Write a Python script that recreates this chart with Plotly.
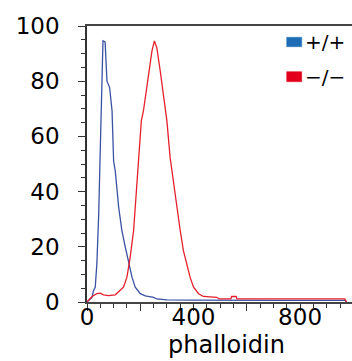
import plotly.graph_objects as go

# data
blue_x = [0, 19, 24, 31, 37, 44, 50, 56, 60, 68, 75, 85, 94, 100, 106, 119, 131, 144, 156,
          169, 181, 200, 219, 250, 262, 300, 400, 500, 700, 900, 968, 975]
blue_y = [0, 1.7, 4, 5.4, 13.8, 31.9, 56, 83.7, 94.6, 94.2, 80, 77.7, 69.3, 51, 47.6, 34.3,
          25.9, 19.8, 15, 9, 5.4, 3, 2.2, 1.7, 1.1, 0.8, 0.7, 0.6, 0.6, 0.6, 0.6, 0]

red_x = [0, 19, 37, 50, 62, 81, 106, 125, 137, 150, 162, 175, 187, 197, 204, 212, 222, 231,
         244, 253, 262, 275, 287, 300, 312, 325, 337, 350, 362, 375, 387, 400, 419, 437, 487,
         497, 540, 543, 560, 563, 700, 900, 968, 975]
red_y = [0, 2, 3, 3.2, 2.6, 2.3, 2.6, 4.2, 5.4, 9, 16.2, 25.9, 44, 56, 65.6, 69.3, 76.5, 83.7,
         91, 94.6, 92.2, 83.7, 74, 65.6, 52.4, 42.7, 34.3, 25.9, 18.6, 13.8, 9, 5.4, 3, 2, 1.7,
         1.1, 1.1, 2, 2, 1.1, 1.1, 1.1, 1.1, 0]

series_names = ["+/+", "\u2212/\u2212"]
x_tickvals = [0, 200, 400, 600, 800]
x_ticktext = ["0", "", "400", "", "800"]
y_tickvals = [0, 20, 40, 60, 80, 100]
x_title = "phalloidin"

FONT = "DejaVu Sans"
BLUE_LINE = "#3a52a2"
RED_LINE = "#e5202c"
BLUE_SW = "#1c6db6"
RED_SW = "#e2001a"

fig = go.Figure()
fig.add_trace(go.Scatter(x=blue_x, y=blue_y, mode="lines", name=series_names[0],
                         line=dict(color=BLUE_LINE, width=1.3), showlegend=False))
fig.add_trace(go.Scatter(x=red_x, y=red_y, mode="lines", name=series_names[1],
                         line=dict(color=RED_LINE, width=1.3), showlegend=False))

W, H = 352, 361
L, R, T, B = 87, 0, 26, 59

fig.update_layout(
    width=W, height=H,
    margin=dict(l=L, r=R, t=T, b=B, pad=0, autoexpand=False),
    paper_bgcolor="white", plot_bgcolor="white",
    font=dict(family=FONT, color="black"),
    xaxis=dict(range=[0, 995], tickvals=x_tickvals, ticktext=x_ticktext, automargin=False,
               ticks="outside", ticklen=7, tickwidth=1, tickcolor="#333",
               minor=dict(dtick=50, ticks="outside", ticklen=4, tickcolor="#333"),
               showline=True, mirror=True, linecolor="#444", linewidth=1.5,
               showgrid=False, zeroline=False,
               ticklabelstandoff=-13,
               tickfont=dict(size=23, family=FONT, color="black")),
    yaxis=dict(range=[0, 100], tickvals=y_tickvals, automargin=False,
               ticks="outside", ticklen=7, tickwidth=1, tickcolor="#333",
               minor=dict(dtick=5, ticks="outside", ticklen=4, tickcolor="#333"),
               showline=True, linecolor="#333", linewidth=1.5, showgrid=False, zeroline=False,
               ticklabelstandoff=14,
               tickfont=dict(size=23, family=FONT, color="black")),
)

pw = W - L - R
ph = H - T - B
def px2x(px):
    return (px - L) / pw
def py2y(py):
    return (H - B - py) / ph

# axis title
fig.add_annotation(xref="paper", yref="paper", x=px2x(226), y=py2y(361),
                   text=x_title, showarrow=False, xanchor="center", yanchor="bottom",
                   font=dict(size=24, family=FONT, color="black"))

# legend drawn as swatches + text
for (y0, y1, col, name) in [(37.3, 46.7, BLUE_SW, series_names[0]),
                            (71.7, 81.7, RED_SW, series_names[1])]:
    fig.add_shape(type="rect", xref="paper", yref="paper",
                  x0=px2x(286.7), x1=px2x(301.7), y0=py2y(y1), y1=py2y(y0),
                  fillcolor=col, line=dict(color=col, width=0.5))
    fig.add_annotation(xref="paper", yref="paper", x=px2x(303), y=py2y((y0 + y1) / 2),
                       text=name, showarrow=False, xanchor="left", yanchor="middle",
                       font=dict(size=20, family=FONT, color="black"))

fig.write_html("out.html", config={"displayModeBar": False},
               post_script="document.body.style.margin='0';document.body.style.padding='0';")
